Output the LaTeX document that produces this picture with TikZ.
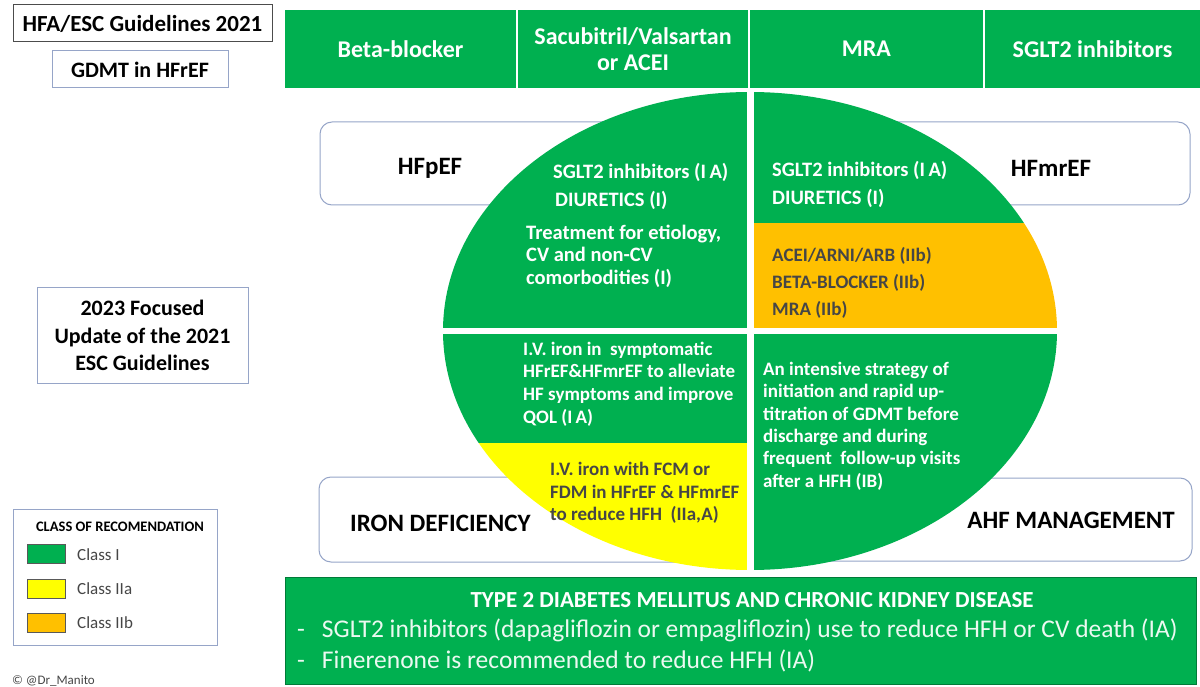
\documentclass[tikz,border=0pt]{standalone}
\usepackage{fontspec}
\setmainfont{Carlito}
\newcommand{\fsz}[2]{\fontsize{#1pt}{#2pt}\selectfont}

\begin{document}
\begin{tikzpicture}[x=1pt, y=-1pt, every node/.style={inner sep=0pt}]

    % 颜色
    \definecolor{ClassI}{RGB}{0, 176, 80}
    \definecolor{ClassIIa}{RGB}{255, 255, 0}
    \definecolor{ClassIIb}{RGB}{255, 192, 0}
    \definecolor{BoxLine}{RGB}{150, 165, 200}
    \definecolor{DarkText}{RGB}{70, 70, 70}

    \tikzset{
        cell/.style={fill=ClassI, text=white, font=\bfseries\fsz{24}{26}, align=center, minimum height=78pt},
        roundbox/.style={draw=BoxLine, fill=white, rounded corners=12pt, line width=1pt},
        plainbox/.style={draw=BoxLine, fill=white, line width=1pt, align=center, font=\bfseries\fsz{22}{27.5}},
        tag/.style={font=\bfseries\fsz{25}{30}},
        qtext/.style={anchor=west, align=left, text=white, font=\bfseries\fsz{20.5}{23}},
        swatch/.style={draw=black!65, line width=1pt, minimum width=38pt, minimum height=19pt},
    }

    \useasboundingbox[fill=white] (0,0) rectangle (1200,687);

    % 左上标题
    \node[plainbox, draw=black!70, font=\bfseries\fsz{23}{27}, minimum width=259pt, minimum height=37pt] (hfa) at (142.5,23.5) {HFA/ESC Guidelines 2021};
    \node[plainbox, minimum width=176pt, minimum height=37pt] (gdmt) at (140,69.5) {GDMT in HFrEF};

    % 顶部药物栏
    \node[cell, minimum width=231pt] (bb) at (400.5,49) {Beta-blocker};
    \node[cell, minimum width=230pt] (arni) at (633,49) {Sacubitril/Valsartan\\or ACEI};
    \node[cell, minimum width=233pt] (mra) at (866.5,49) {MRA};
    \node[cell, minimum width=215pt] (sglt) at (1092.5,49) {SGLT2 inhibitors};

    % 圆角框（被椭圆遮住一部分）
    \draw[roundbox] (320,122) rectangle (690,205);
    \draw[roundbox] (810,122) rectangle (1190,205);
    \draw[roundbox] (319,477) rectangle (700,562);
    \draw[roundbox] (800,478) rectangle (1192,561);

    % 椭圆四个象限
    \begin{scope}
        \clip (750,331) ellipse (307 and 239);
        \fill[ClassI] (440,85) rectangle (747,328);
        \fill[ClassI] (754,85) rectangle (1060,223);
        \fill[ClassIIb] (754,223) rectangle (1060,328);
        \fill[ClassI] (440,334) rectangle (747,443);
        \fill[ClassIIa] (440,443) rectangle (747,575);
        \fill[ClassI] (754,334) rectangle (1060,575);
    \end{scope}

    % 标签
    \node[tag] (hfpef) at (430,168) {HFpEF};
    \node[tag] (hfmref) at (1051,168) {HFmrEF};
    \node[tag, anchor=west] (iron) at (350,523) {IRON DEFICIENCY};
    \node[tag, anchor=east] (ahf) at (1175,520) {AHF MANAGEMENT};

    % 象限文字
    \node[qtext] (pef1) at (553,172) {SGLT2 inhibitors (I\,A)};
    \node[qtext] (pef2) at (555,200) {DIURETICS (I)};
    \node[qtext, font=\bfseries\fsz{20.5}{22.5}] (pef3) at (526,256) {Treatment for etiology,\\CV and non-CV\\comorbodities (I)};
    \node[qtext] (mref1) at (772,170) {SGLT2 inhibitors (I\,A)};
    \node[qtext] (mref2) at (772,198) {DIURETICS (I)};
    \node[qtext, text=DarkText, font=\bfseries\fsz{19}{27}] (mref3) at (772,283) {ACEI/ARNI/ARB (IIb)\\BETA-BLOCKER (IIb)\\MRA (IIb)};
    \node[qtext, font=\bfseries\fsz{19}{22.7}] (iron1) at (523,384) {I.V. iron in\ \ symptomatic\\HFrEF\&HFmrEF to alleviate\\HF symptoms and improve\\QOL (I\,A)};
    \node[qtext, text=DarkText, font=\bfseries\fsz{19}{22.5}] (iron2) at (550,493) {I.V. iron with FCM or\\FDM in HFrEF \& HFmrEF\\to reduce HFH\ \ (IIa,A)};
    \node[qtext, font=\bfseries\fsz{19}{22.4}] (ahf1) at (763,426) {An intensive strategy of\\initiation and rapid up-\\titration of GDMT before\\discharge and during\\frequent\ \ follow-up visits\\after a HFH (IB)};

    % 2023 更新
    \node[plainbox, minimum width=211pt, minimum height=95pt] (update) at (142.5,335.5) {2023 Focused\\Update of the 2021\\ESC Guidelines};

    % 图例
    \node[draw=BoxLine, line width=1pt, minimum width=204pt, minimum height=136pt] (legend) at (115,577) {};
    \node[font=\bfseries\fsz{14.5}{17}] (legtitle) at (120,527) {CLASS OF RECOMENDATION};
    \node[swatch, fill=ClassI] (sw1) at (46,554) {};
    \node[swatch, fill=ClassIIa] (sw2) at (46,589) {};
    \node[swatch, fill=ClassIIb] (sw3) at (46,622.5) {};
    \node[anchor=west, font=\fsz{17}{20}, text=DarkText] (cl1) at (77,555) {Class I};
    \node[anchor=west, font=\fsz{17}{20}, text=DarkText] (cl2) at (77,589) {Class IIa};
    \node[anchor=west, font=\fsz{17}{20}, text=DarkText] (cl3) at (77,623) {Class IIb};
    \node[anchor=west, font=\fsz{13}{15}, text=DarkText] (credit) at (12,681) {\textcopyright{} @Dr\_Manito};

    % 底部框
    \node[draw=ClassI!70!black, fill=ClassI, line width=1pt, minimum width=911pt, minimum height=107pt] (dmckd) at (740.5,630.5) {};
    \node[text=white, font=\bfseries\fsz{23}{26}] (dmtitle) at (752,600) {TYPE 2 DIABETES MELLITUS AND CHRONIC KIDNEY DISEASE};
    \node[anchor=west, text=white!92!ClassI, font=\fsz{25.5}{28}] (dm1) at (297,630) {-\hspace{17pt}SGLT2 inhibitors (dapagliflozin or empagliflozin) use to reduce HFH or CV death (IA)};
    \node[anchor=west, text=white!92!ClassI, font=\fsz{25.5}{28}] (dm2) at (297,661) {-\hspace{17pt}Finerenone is recommended to reduce HFH (IA)};

\end{tikzpicture}
\end{document}
